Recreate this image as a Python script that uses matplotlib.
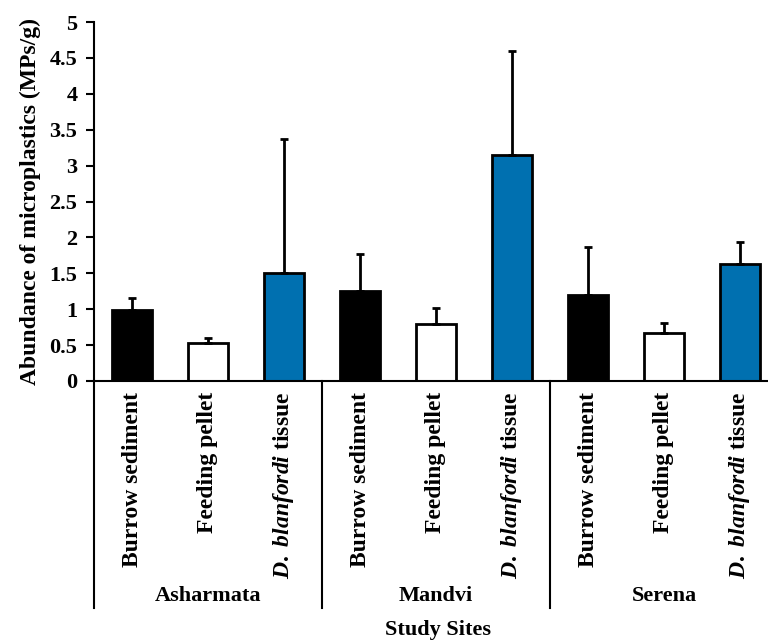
import numpy as np
import matplotlib.pyplot as plt
from matplotlib import rcParams

rcParams['font.family'] = 'Liberation Serif'
rcParams['font.weight'] = 'bold'
rcParams['mathtext.fontset'] = 'custom'
rcParams['mathtext.it'] = 'Liberation Serif:italic:bold'
rcParams['mathtext.rm'] = 'Liberation Serif:bold'

# data
sites = ['Asharmata', 'Mandvi', 'Serena']
samples = ['Burrow sediment', 'Feeding pellet', r'$\mathit{D.\ blanfordi}$ tissue']
means = [0.99, 0.53, 1.50,
         1.25, 0.79, 3.15,
         1.20, 0.67, 1.63]
err_top = [1.16, 0.60, 3.37,
           1.77, 1.02, 4.60,
           1.87, 0.81, 1.94]
yticks = [0, 0.5, 1, 1.5, 2, 2.5, 3, 3.5, 4, 4.5, 5]
ytick_labels = ['0', '0.5', '1', '1.5', '2', '2.5', '3', '3.5', '4', '4.5', '5']

colors = ['black', 'white', '#0070b0'] * 3

fig = plt.figure(figsize=(7.68, 6.42), dpi=100)
ax = fig.add_axes([94/768, 261/642, 684/768, 359/642])

x = np.arange(len(means))
means = np.array(means)
upper = np.array(err_top) - means
ax.bar(x, means, width=0.52, color=colors, edgecolor='black', linewidth=2,
       yerr=[np.zeros_like(upper), upper], zorder=2,
       error_kw=dict(ecolor='black', elinewidth=2, capsize=3, capthick=2))

ax.set_xlim(-0.5, 8.5)
ax.set_ylim(0, 5)
ax.set_yticks(yticks)
ax.set_yticklabels(ytick_labels, fontsize=16, fontweight='bold')
ax.tick_params(axis='y', direction='out', length=6, width=1.5, pad=6)
ax.set_xticks([])
for s in ['top', 'right']:
    ax.spines[s].set_visible(False)
ax.spines['left'].set_linewidth(1.5)
ax.spines['bottom'].set_linewidth(1.5)

ax.set_ylabel('Abundance of microplastics (MPs/g)', fontsize=17, fontweight='bold', labelpad=6)

trans = ax.get_xaxis_transform()
# group separators below the axis
for sx in [-0.5, 2.5, 5.5, 8.5]:
    ax.plot([sx, sx], [0, -0.632], color='black', lw=1.5, transform=trans, clip_on=False)

# category labels
for i in range(len(means)):
    ax.text(x[i], -0.03, samples[i % 3], rotation=90, ha='center', va='top',
            fontsize=17, fontweight='bold', transform=trans)

# site labels
for j, site in enumerate(sites):
    ax.text(3*j + 1, -0.599, site, ha='center', va='center', fontsize=16,
            fontweight='bold', transform=trans)

fig.text(438/768, 1 - 640/642, 'Study Sites', ha='center', va='bottom',
         fontsize=16, fontweight='bold')

fig.savefig('out.png', dpi=100)
